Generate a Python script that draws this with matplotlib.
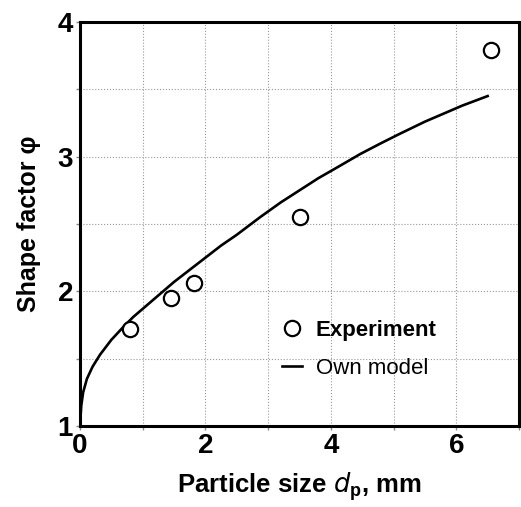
import numpy as np
import matplotlib.pyplot as plt
from matplotlib.ticker import MultipleLocator

plt.rcParams['font.family'] = ['Liberation Sans', 'DejaVu Sans']

# experiment points
exp_x = [0.8, 1.45, 1.82, 3.5, 6.55]
exp_y = [1.72, 1.95, 2.06, 2.55, 3.79]

# own model curve
model_x = [0.0, 0.02, 0.05, 0.11, 0.2, 0.32, 0.5, 0.7, 0.85, 1.0, 1.2, 1.5, 1.75, 2.0, 2.25,
           2.5, 2.87, 3.2, 3.5, 3.8, 4.1, 4.47, 4.8, 5.1, 5.5, 5.8, 6.1, 6.5]
model_y = [1.0, 1.15, 1.25, 1.35, 1.44, 1.53, 1.64, 1.74, 1.81, 1.87, 1.95, 2.07, 2.16, 2.25, 2.34,
           2.42, 2.55, 2.66, 2.75, 2.84, 2.92, 3.02, 3.10, 3.17, 3.26, 3.32, 3.38, 3.45]

fig = plt.figure(figsize=(5.21, 5.07), dpi=100)
ax = fig.add_axes([80 / 521, 1 - 426 / 507, 439 / 521, 404 / 507])

ax.plot(model_x, model_y, color='black', lw=1.9, label='Own model', zorder=3)
ax.plot(exp_x, exp_y, 'o', ms=11, mfc='white', mec='black', mew=1.6,
        label='Experiment', zorder=4, clip_on=False)

ax.set_xlim(0, 7)
ax.set_ylim(1, 4)
ax.xaxis.set_major_locator(MultipleLocator(2))
ax.xaxis.set_minor_locator(MultipleLocator(1))
ax.yaxis.set_major_locator(MultipleLocator(1))
ax.yaxis.set_minor_locator(MultipleLocator(0.5))
ax.grid(which='both', ls=':', color='#999999', lw=0.8)
ax.set_axisbelow(True)

for s in ax.spines.values():
    s.set_linewidth(2.2)
ax.tick_params(which='both', direction='out', length=3, width=1, color='#888888')
ax.tick_params(which='major', labelsize=20, pad=2)
for lab in ax.get_xticklabels() + ax.get_yticklabels():
    lab.set_fontweight('bold')

ax.set_xlabel('Particle size $\\mathbf{\\mathit{d}}_\\mathregular{p}$, mm', fontsize=18.5,
              fontweight='bold', labelpad=8)
ax.set_ylabel('Shape factor φ', fontsize=18, fontweight='bold', labelpad=12)

handles, labels = ax.get_legend_handles_labels()
leg = ax.legend(handles[::-1], labels[::-1], loc='center left',
                bbox_to_anchor=(0.415, 0.19), frameon=False, fontsize=16,
                handlelength=0.9, handletextpad=0.6, labelspacing=0.75)
leg.get_texts()[0].set_fontweight('bold')

fig.savefig('out.png', dpi=100)
